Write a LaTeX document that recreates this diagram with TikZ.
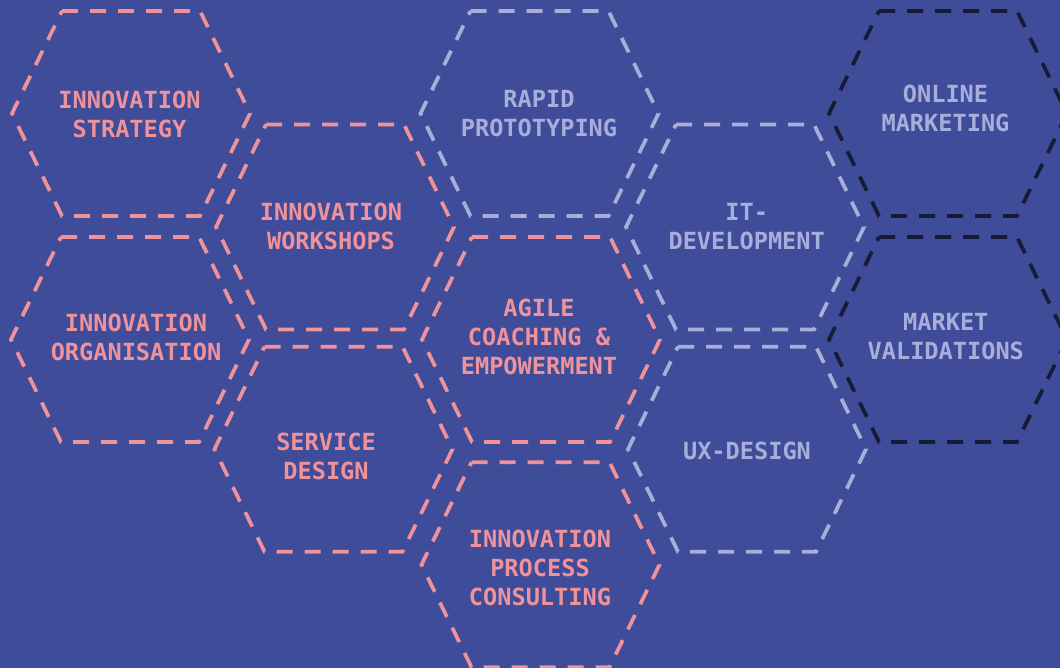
\documentclass[tikz,border=0pt]{standalone}
\usepackage{fontspec}
\newfontfamily\hexfont{DejaVu Sans Mono}
\definecolor{bgc}{HTML}{3F4C9A}
\definecolor{pinkc}{HTML}{F0929A}
\definecolor{lavc}{HTML}{A8AEDA}
\definecolor{navyc}{HTML}{181B36}
\begin{document}
\begin{tikzpicture}[x=1pt,y=-1pt,
  hexline/.style={line width=3.7pt, dash pattern=on 16pt off 12pt},
  hexlabel/.style={align=center, inner sep=0pt, font=\hexfont\bfseries\fontsize{23.6}{29}\selectfont},
  pinklabel/.style={hexlabel, text=pinkc},
  lavlabel/.style={hexlabel, text=lavc},
  pics/hex/.style={code={\draw[hexline] (-69,-102.5) -- (69,-102.5) -- (119,0) -- (69,102.5) -- (-69,102.5) -- (-119,0) -- cycle;}}]
\fill[bgc] (0,0) rectangle (1060,668);
\useasboundingbox (0,0) rectangle (1060,668);
% hexagon centres
\coordinate (h1) at (131,113.5);
\coordinate (h2) at (335,227);
\coordinate (h3) at (130,339.5);
\coordinate (h4) at (333.5,449.2);
\coordinate (h5) at (539.5,113.5);
\coordinate (h6) at (541,339.5);
\coordinate (h7) at (540.5,564.7);
\coordinate (h8) at (745,227);
\coordinate (h9) at (747,449.2);
\coordinate (h10) at (948,113.5);
\coordinate (h11) at (948,339.5);
% hexagons
\pic[color=pinkc] at (h1) {hex};
\pic[color=pinkc] at (h2) {hex};
\pic[color=pinkc] at (h3) {hex};
\pic[color=pinkc] at (h4) {hex};
\pic[color=lavc] at (h5) {hex};
\pic[color=pinkc] at (h6) {hex};
\pic[color=pinkc] at (h7) {hex};
\pic[color=lavc] at (h8) {hex};
\pic[color=lavc] at (h9) {hex};
\pic[color=navyc] at (h10) {hex};
\pic[color=navyc] at (h11) {hex};
% labels
\node[pinklabel] (t1) at (129.5,114) {INNOVATION\\STRATEGY};
\node[pinklabel] (t2) at (331,226.8) {INNOVATION\\WORKSHOPS};
\node[pinklabel] (t3) at (136,337) {INNOVATION\\ORGANISATION};
\node[pinklabel] (t4) at (326,456.7) {SERVICE\\DESIGN};
\node[lavlabel] (t5) at (539,113.7) {RAPID\\PROTOTYPING};
\node[pinklabel] (t6) at (539,337) {AGILE\\COACHING \&\\EMPOWERMENT};
\node[pinklabel] (t7) at (540,567.8) {INNOVATION\\PROCESS\\CONSULTING};
\node[lavlabel] (t8) at (746.7,227) {IT-\\DEVELOPMENT};
\node[lavlabel] (t9) at (747,451.3) {UX-DESIGN};
\node[lavlabel] (t10) at (945.5,108.8) {ONLINE\\MARKETING};
\node[lavlabel] (t11) at (945.8,337) {MARKET\\VALIDATIONS};
\end{tikzpicture}
\end{document}
